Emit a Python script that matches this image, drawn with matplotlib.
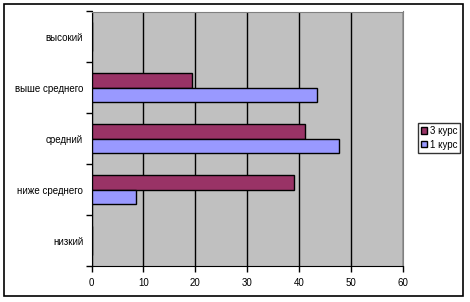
import matplotlib.pyplot as plt
from matplotlib.patches import Rectangle
import numpy as np

# данные (снизу вверх)
categories = ['низкий', 'ниже среднего', 'средний', 'выше среднего', 'высокий']
kurs3 = [0, 39.1, 41.2, 19.4, 0]
kurs1 = [0, 8.6, 47.7, 43.5, 0]
xticks = [0, 10, 20, 30, 40, 50, 60]

plt.rcParams['font.family'] = ['Liberation Sans', 'DejaVu Sans']

fig = plt.figure(figsize=(4.7, 3.02), dpi=100)
W, H = 470, 302
# рамка диаграммы
fig.patches.append(Rectangle((4 / W, 1 - 296 / H), 459 / W, 292 / H, transform=fig.transFigure,
                             fill=False, edgecolor='black', linewidth=1.2))

ax = fig.add_axes([91.5 / W, 1 - 266 / H, (403 - 91.5) / W, (266 - 11.5) / H])
ax.set_facecolor('#C0C0C0')

y = np.arange(len(categories))
h = 0.285
ax.barh(y + h / 2, kurs3, height=h, color='#993366', edgecolor='black', linewidth=1, label='3 курс', zorder=3)
ax.barh(y - h / 2, kurs1, height=h, color='#9999FF', edgecolor='black', linewidth=1, label='1 курс', zorder=3)

ax.set_xlim(0, 60)
ax.set_ylim(-0.5, len(categories) - 0.5)
ax.set_xticks(xticks)
ax.set_xticklabels([str(t) for t in xticks], fontsize=7)
ax.set_yticks(y)
ax.set_yticklabels(categories, fontsize=7)
ax.tick_params(axis='y', length=0, pad=6)
ax.set_yticks(np.arange(-0.5, len(categories)), minor=True)
ax.tick_params(axis='y', which='minor', length=4, width=1)
ax.tick_params(axis='x', length=4, width=1, pad=5)
ax.grid(axis='x', color='black', linewidth=1, zorder=1)
ax.set_axisbelow(True)

ax.spines['left'].set_color('black')
ax.spines['bottom'].set_color('black')
ax.spines['top'].set_color('#808080')
ax.spines['right'].set_color('#808080')

leg = ax.legend(loc='upper left', bbox_to_anchor=(418 / W, 1 - 123 / H), bbox_transform=fig.transFigure,
                fontsize=7, frameon=True, fancybox=False, edgecolor='black', handlelength=0.6,
                handleheight=0.6, handletextpad=0.3, borderpad=0.3, labelspacing=0.4, borderaxespad=0)
leg.get_frame().set_linewidth(1)

fig.savefig('out.png', dpi=100)
